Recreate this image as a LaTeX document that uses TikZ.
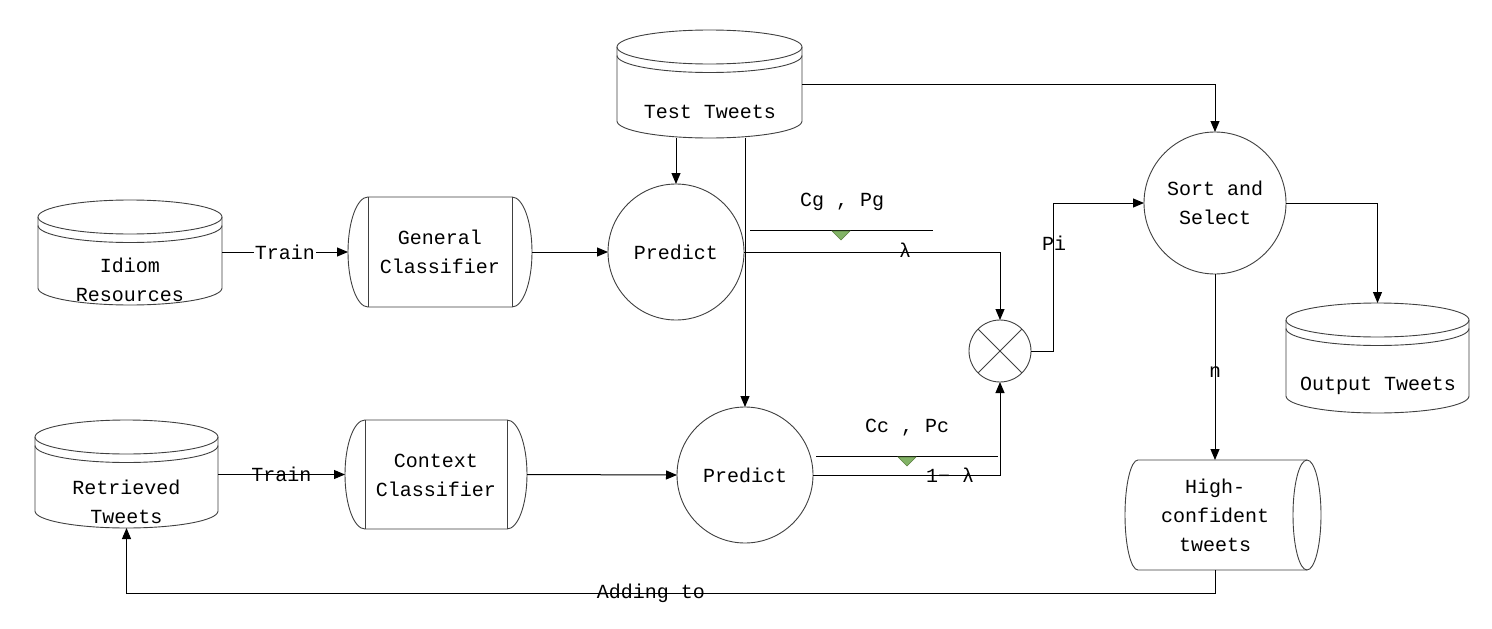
\documentclass[tikz,border=0pt]{standalone}
\usepackage{fontspec}
\setmainfont{Liberation Mono}
\usetikzlibrary{arrows.meta,calc}
\definecolor{trifill}{HTML}{82B366}
\definecolor{tridraw}{HTML}{5B7F3F}
\newcommand\drawcyl[5]{%
 \pgfmathsetmacro\cylcx{(#1+#2)/2}%
 \pgfmathsetmacro\cylrx{(#2-#1)/2}%
 \pgfmathsetmacro\cylt{#3+#5}%
 \pgfmathsetmacro\cylb{#4-#5}%
 \pgfmathsetmacro\cyls{#3+#5+#5/2}%
 \draw[shp] (\cylcx,\cylt) ellipse [x radius=\cylrx pt, y radius=#5 pt];
 \draw[shp] (#1,\cyls) arc[start angle=180,end angle=360,x radius=\cylrx pt,y radius=#5 pt];
 \draw[shp] (#1,\cylt) -- (#1,\cylb) arc[start angle=180,end angle=360,x radius=\cylrx pt,y radius=#5 pt] -- (#2,\cylt);
}
\begin{document}
\begin{tikzpicture}[x=1pt,y=-1pt,
 shp/.style={draw=black!75,line width=0.9pt},
 conn/.style={draw=black,line width=1pt},
 arr/.style={conn,-{Triangle[length=11pt,width=9pt]}},
 txt/.style={font=\fontsize{20}{29}\selectfont,align=center,inner sep=0pt},
 holder/.style={inner sep=0pt,outer sep=0pt},
 circ/.style={circle,shp,inner sep=0pt,outer sep=0pt}]
\fill[white] (0,0) rectangle (1492,629);
\useasboundingbox (0,0) rectangle (1492,629);

% cylinders
\drawcyl{617}{802}{30}{138}{17}
\node[holder,minimum width=185pt,minimum height=108pt] (test) at (709.5,84) {};
\node[txt] at (710,112) {Test Tweets};

\drawcyl{38}{222}{200}{305}{17}
\node[holder,minimum width=184pt,minimum height=105pt] (idiom) at (130,252.5) {};
\node[txt] at (130,280) {Idiom\\Resources};

\drawcyl{35}{218}{420}{528}{17}
\node[holder,minimum width=183pt,minimum height=108pt] (retr) at (126.5,474) {};
\node[txt] at (126.5,502) {Retrieved\\Tweets};

\drawcyl{1286}{1469}{303}{413}{17}
\node[holder,minimum width=183pt,minimum height=110pt] (out) at (1377.5,358) {};
\node[txt] at (1378,386) {Output Tweets};

% classifiers
\node[holder,minimum width=184pt,minimum height=110pt] (gen) at (440,252) {};
\draw[shp] (368,197) -- (512,197) arc[start angle=90,end angle=-90,x radius=20pt,y radius=55pt] -- (368,307) arc[start angle=270,end angle=90,x radius=20pt,y radius=55pt] -- cycle;
\draw[shp] (368,197) -- (368,307) (512,197) -- (512,307);
\node[txt] at (440,252) {General\\Classifier};

\node[holder,minimum width=182pt,minimum height=109pt] (ctx) at (436,474.5) {};
\draw[shp] (365,420) -- (507,420) arc[start angle=90,end angle=-90,x radius=20pt,y radius=54.5pt] -- (365,529) arc[start angle=270,end angle=90,x radius=20pt,y radius=54.5pt] -- cycle;
\draw[shp] (365,420) -- (365,529) (507,420) -- (507,529);
\node[txt] at (436,475) {Context\\Classifier};

% high-confident
\node[holder,minimum width=196pt,minimum height=110pt] (hc) at (1223,515) {};
\draw[shp] (1307,460) -- (1138,460) arc[start angle=90,end angle=270,x radius=13pt,y radius=55pt] -- (1307,570);
\draw[shp] (1307,515) ellipse [x radius=14pt,y radius=55pt];
\node[txt] at (1215,515) {High-\\confident\\tweets};

% circles
\node[circ,txt,minimum size=136pt] (p1) at (676,252) {Predict};
\node[circ,txt,minimum size=136pt] (p2) at (745,475) {Predict};
\node[circ,minimum size=62pt] (mult) at (1000,351) {};
\draw[shp] (mult.north east) -- (mult.south west) (mult.north west) -- (mult.south east);
\node[circ,txt,minimum size=142pt] (sort) at (1215,203) {Sort and\\Select};

% connectors
\draw[arr] (idiom.east |- gen.west) -- node[txt,fill=white,inner sep=1pt]{Train} (gen.west);
\draw[arr] (gen.east) -- (p1.west);
\draw[arr] (retr.east |- ctx.west) -- node[txt]{Train} (ctx.west);
\draw[arr] (ctx.east) -- (p2.west);
\draw[arr] (p1.north |- test.south) -- (p1.north);
\draw[arr] (p2.north |- test.south) -- (p2.north);
\draw[arr] (test.east) -| (sort.north);
\draw[arr] (p1.east) -| (mult.north);
\draw[arr] (p2.east) -| (mult.south);
\draw[arr] (mult.east) -- ++(22,0) |- (sort.west);
\draw[arr] (sort.east) -| (out.north);
\draw[arr] (sort.south) -- (sort.south |- hc.north);
\draw[arr] (sort.south |- hc.south) -- ++(0,23) -| (retr.south);

% decorations
\draw[conn] (750,230) -- (933,230);
\filldraw[fill=trifill,draw=tridraw,line width=0.6pt] (832,231) -- (850,231) -- (841,240) -- cycle;
\draw[conn] (816,456) -- (998,456);
\filldraw[fill=trifill,draw=tridraw,line width=0.6pt] (898,457) -- (916,457) -- (907,466) -- cycle;

% labels
\node[txt] at (842,202) {Cg , Pg};
\node[txt] at (907,428) {Cc , Pc};
\node[txt] at (905,250) {λ};
\node[txt] at (950,475) {1− λ};
\node[txt] at (1054,243) {Pi};
\node[txt] at (1215,372) {n};
\node[txt] at (651,593) {Adding to};
\end{tikzpicture}
\end{document}
